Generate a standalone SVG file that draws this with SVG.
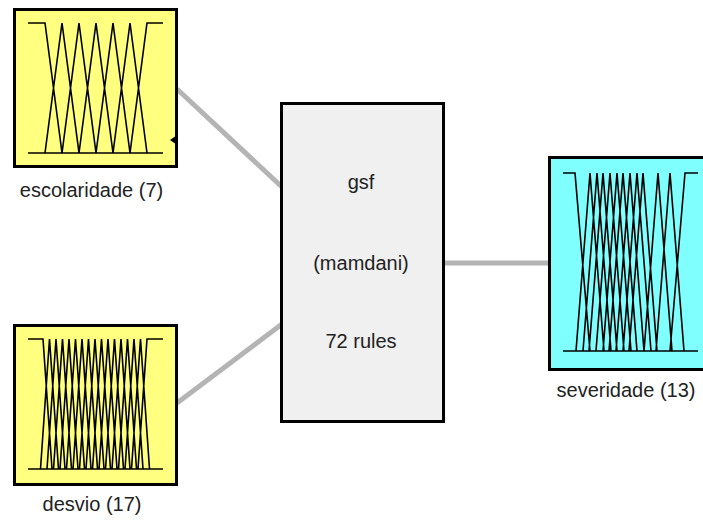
<svg xmlns="http://www.w3.org/2000/svg" width="703" height="520" viewBox="0 0 703 520">
<style>
.box{stroke:#000;stroke-width:3}
.in{fill:#FFFF80}
.out{fill:#80FFFF}
.sys{fill:#F0F0F0;stroke:#000;stroke-width:3}
.mf{fill:none;stroke:#000;stroke-width:1.6;stroke-linejoin:miter}
.lbl{font-family:"Liberation Sans",Arial,sans-serif;font-size:20px;fill:#222;text-anchor:middle}
.conn{stroke:#B4B4B4;stroke-width:5;fill:none}
</style>
<rect width="703" height="520" fill="#fff"/>
<g id="connectors">
<line class="conn" x1="177" y1="89" x2="282" y2="187"/>
<line class="conn" x1="177" y1="403" x2="282" y2="324"/>
<line class="conn" x1="443" y1="263" x2="550" y2="263"/>
</g>
<g id="escolaridade">
<rect class="box in" x="14.5" y="9.5" width="162" height="157"/>
<path class="mf" d="M28,153 H163
M28,23 H45 L62,153
M45,153 L62,23 L79,153
M62,153 L79,23 L96,153
M79,153 L96,23 L113,153
M96,153 L113,23 L130,153
M113,153 L130,23 L147,153
M130,153 L147,23 H163"/>
<polygon points="170,140 175,136.5 175,143.5" fill="#000"/>
<text class="lbl" x="91.5" y="197">escolaridade (7)</text>
</g>
<g id="desvio">
<rect class="box in" x="14.5" y="325.5" width="162" height="159"/>
<path class="mf" d="M28,469 H163
M28,339 H43 L52,469
M40.5,469 L49.5,339 L58.5,469
M47,469 L56,339 L65,469
M53.5,469 L62.5,339 L71.5,469
M60,469 L69,339 L78,469
M66.5,469 L75.5,339 L84.5,469
M73,469 L82,339 L91,469
M79.5,469 L88.5,339 L97.5,469
M86,469 L95,339 L104,469
M92.5,469 L101.5,339 L110.5,469
M99,469 L108,339 L117,469
M105.5,469 L114.5,339 L123.5,469
M112,469 L121,339 L130,469
M118.5,469 L127.5,339 L136.5,469
M125,469 L134,339 L143,469
M131.5,469 L140.5,339 L149.5,469
M138,469 L147,339 H163"/>
<text class="lbl" x="92" y="511">desvio (17)</text>
</g>
<g id="gsf">
<rect class="sys" x="281.5" y="103.5" width="162" height="318"/>
<text class="lbl" x="361" y="189">gsf</text>
<text class="lbl" x="361" y="270">(mamdani)</text>
<text class="lbl" x="361" y="348">72 rules</text>
</g>
<g id="severidade">
<rect class="box out" x="549.5" y="157.5" width="160" height="212"/>
<path class="mf" d="M563,351 H698
M563,173 H575 L590,351
M576,351 L590,173 L604,351
M583,351 L597,173 L611,351
M589,351 L603,173 L617,351
M596,351 L610,173 L624,351
M603,351 L617,173 L631,351
M609,351 L623,173 L637,351
M616,351 L630,173 L644,351
M623,351 L637,173 L651,351
M629,351 L643,173 L657,351
M644,351 L658,173 L672,351
M656,351 L670,173 L684,351
M670,351 L685,173 H698"/>
<text class="lbl" x="626" y="397">severidade (13)</text>
</g>
</svg>
